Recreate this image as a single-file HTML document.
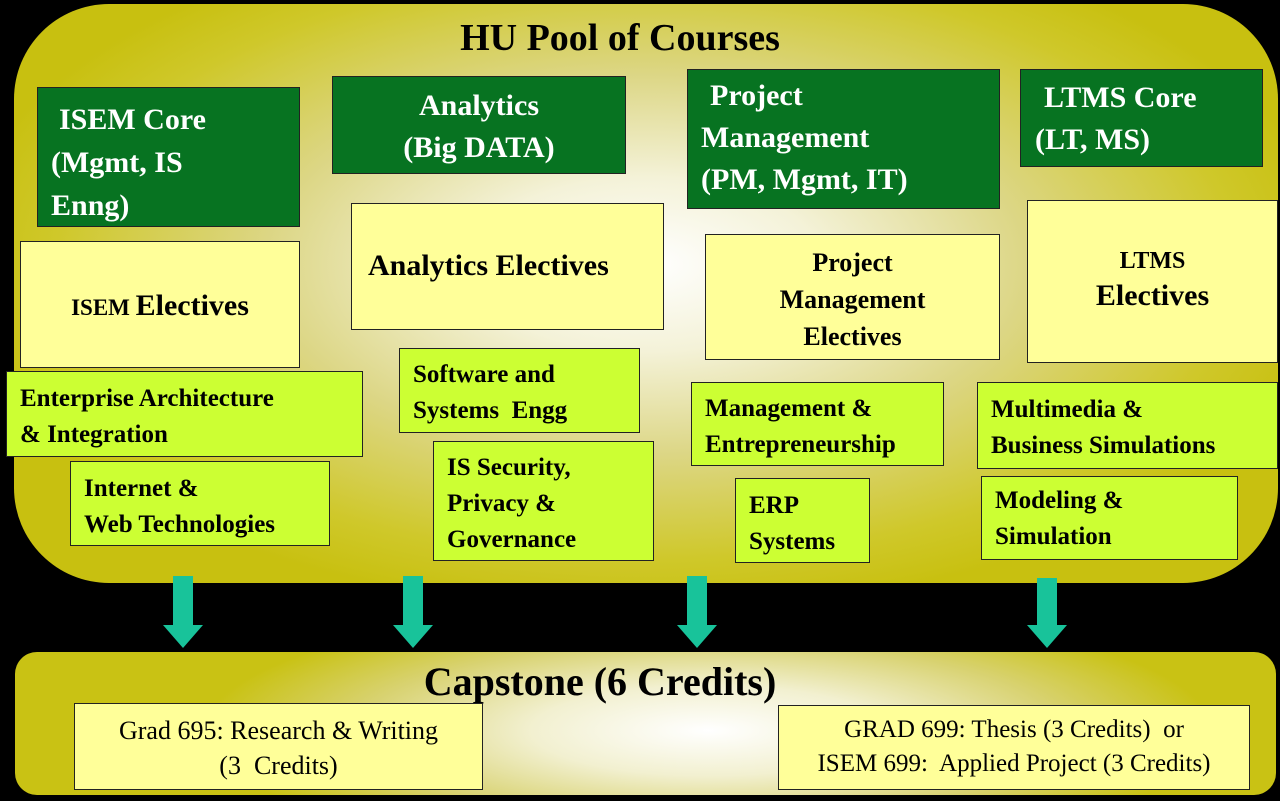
<!DOCTYPE html>
<html><head><meta charset="utf-8"><style>
html,body{margin:0;padding:0;background:#000;}
body{width:1280px;height:801px;position:relative;overflow:hidden;font-family:"Liberation Serif","Noto Serif CJK SC","DejaVu Serif",serif;font-weight:bold;}
.p{position:absolute;}
.main{left:14px;top:4px;width:1264px;height:579px;border-radius:95px;
background:radial-gradient(ellipse 55% 60% at 50% 45%,#ffffff 0%,#f4f2d8 25%,#dcd684 55%,#cfc82a 85%,#c8c010 100%);}
.cap{left:15px;top:652px;width:1261px;height:143px;border-radius:22px;
background:radial-gradient(ellipse 40% 90% at 55% 55%,#ffffff 0%,#f2f0d0 35%,#d8d270 70%,#c9c214 100%);}
.b{position:absolute;box-sizing:border-box;border:1.5px solid #222;}
.g{background:#077321;color:#fff;font-size:30px;line-height:43px;}
.y{background:#ffff99;color:#000;}
.l{background:#ccff33;color:#000;font-size:25px;line-height:36px;padding-left:13px;}
</style></head><body>
<div class="p main"></div>
<div class="p cap"></div>
<div class="p" style="left:-20px;width:1280px;top:16px;text-align:center;font-size:38px;">HU Pool of Courses</div>

<div class="b g" style="left:37px;top:87px;width:263px;height:140px;padding:10px 0 0 13px;"><div style="padding-left:8px">ISEM Core</div>(Mgmt, IS<br>Enng)</div>
<div class="b g" style="left:332px;top:76px;width:294px;height:98px;text-align:center;padding-top:8px;line-height:42px;">Analytics<br>(Big DATA)</div>
<div class="b g" style="left:687px;top:69px;width:313px;height:140px;padding:5px 0 0 13px;line-height:42px;"><div style="padding-left:9px">Project</div>Management<br>(PM, Mgmt, IT)</div>
<div class="b g" style="left:1020px;top:69px;width:243px;height:98px;padding:7px 0 0 14px;line-height:42px;"><div style="padding-left:9px">LTMS Core</div>(LT, MS)</div>

<div class="b y" style="left:20px;top:241px;width:280px;height:127px;text-align:center;line-height:127px;font-size:23px;">ISEM <span style="font-size:30px">Electives</span></div>
<div class="b y" style="left:351px;top:203px;width:313px;height:127px;padding-top:45px;padding-left:16px;font-size:30px;">Analytics Electives</div>
<div class="b y" style="left:705px;top:234px;width:295px;height:126px;text-align:center;font-size:26px;line-height:37px;padding-top:9px;">Project<br>Management<br>Electives</div>
<div class="b y" style="left:1027px;top:200px;width:251px;height:163px;text-align:center;padding-top:44px;"><div style="font-size:24px;line-height:32px;">LTMS</div><div style="font-size:30px;line-height:38px;">Electives</div></div>

<div class="b l" style="left:6px;top:371px;width:357px;height:86px;padding-top:9px;">Enterprise Architecture<br>&amp; Integration</div>
<div class="b l" style="left:70px;top:461px;width:260px;height:85px;padding-top:9px;">Internet &amp;<br>Web Technologies</div>
<div class="b l" style="left:399px;top:348px;width:241px;height:85px;padding-top:8px;">Software and<br>Systems&nbsp; Engg</div>
<div class="b l" style="left:433px;top:441px;width:221px;height:120px;padding-top:8px;">IS Security,<br>Privacy &amp;<br>Governance</div>
<div class="b l" style="left:691px;top:382px;width:253px;height:84px;padding-top:8px;">Management &amp;<br>Entrepreneurship</div>
<div class="b l" style="left:735px;top:478px;width:135px;height:85px;padding-top:9px;">ERP<br>Systems</div>
<div class="b l" style="left:977px;top:382px;width:301px;height:87px;padding-top:9px;">Multimedia &amp;<br>Business Simulations</div>
<div class="b l" style="left:981px;top:476px;width:257px;height:84px;padding-top:6px;">Modeling &amp;<br>Simulation</div>

<svg class="p" style="left:0;top:0" width="1280" height="801">
<g fill="#18c39a">
<polygon points="173,576 193,576 193,625 203,625 183,648 163,625 173,625"/>
<polygon points="403,576 423,576 423,625 433,625 413,648 393,625 403,625"/>
<polygon points="687,576 707,576 707,625 717,625 697,648 677,625 687,625"/>
<polygon points="1037,578 1057,578 1057,625 1067,625 1047,648 1027,625 1037,625"/>
</g></svg>

<div class="p" style="left:0;width:1200px;top:658px;text-align:center;font-size:40px;">Capstone (6 Credits)</div>
<div class="b y" style="left:74px;top:703px;width:409px;height:87px;text-align:center;font-weight:normal;font-size:26px;line-height:35px;padding-top:9px;">Grad 695: Research &amp; Writing<br>(3&nbsp; Credits)</div>
<div class="b y" style="left:778px;top:705px;width:472px;height:85px;text-align:center;font-weight:normal;font-size:25px;line-height:34px;padding-top:7px;">GRAD 699: Thesis (3 Credits)&nbsp; or<br>ISEM 699:&nbsp; Applied Project (3 Credits)</div>
</body></html>
